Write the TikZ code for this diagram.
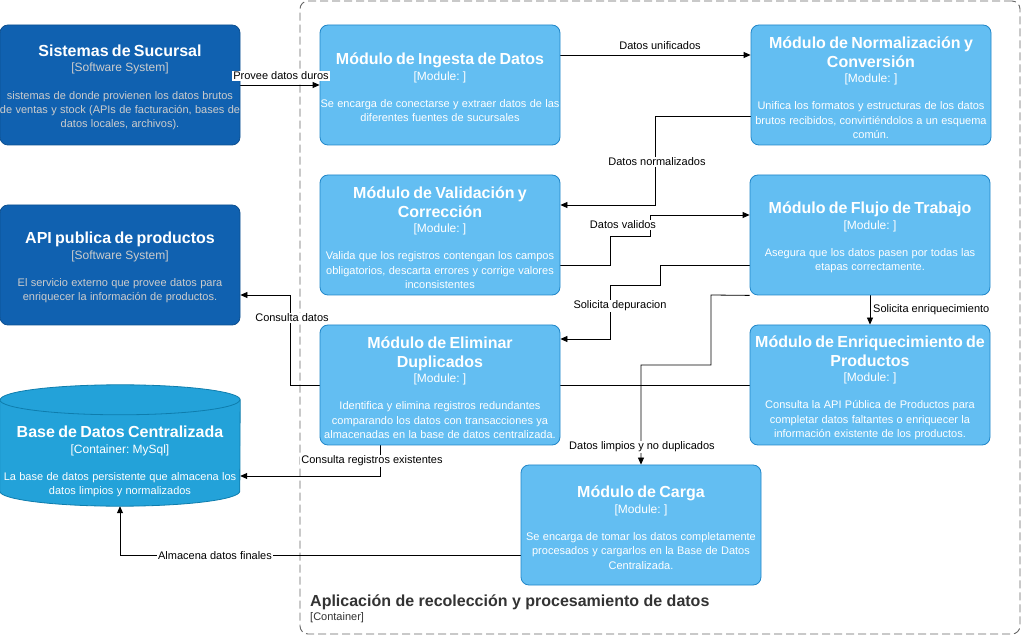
\documentclass[tikz,border=0pt]{standalone}
\usepackage{fontspec}
\setmainfont{Liberation Sans}
\frenchspacing
\usetikzlibrary{arrows.meta,calc,backgrounds}
\definecolor{sysfill}{HTML}{1061B0}
\definecolor{sysline}{HTML}{0D5091}
\definecolor{modfill}{HTML}{63BEF2}
\definecolor{modline}{HTML}{2086C9}
\definecolor{dbfill}{HTML}{23A2D9}
\definecolor{dbline}{HTML}{0E7DAD}
\definecolor{bnd}{HTML}{666666}
\definecolor{bndtext}{HTML}{333333}
\definecolor{sysdesc}{HTML}{CCCCCC}
\newcommand{\boxtxt}[4]{%
{\fontsize{16}{19}\selectfont\bfseries #1\par}%
{\fontsize{12}{15.5}\selectfont\leavevmode\color{#4}#2\par}%
\vspace{13pt}%
{\fontsize{11}{14.3}\selectfont\leavevmode\color{#4}#3\par}}
\begin{document}
\begin{tikzpicture}[x=1pt,y=-1pt,
  sysbox/.style={draw=sysline,fill=sysfill,rounded corners=8pt,minimum width=240pt,minimum height=120pt,inner sep=0pt,line width=0.8pt},
  modbox/.style={draw=modline,fill=modfill,rounded corners=8pt,minimum width=240pt,minimum height=120pt,inner sep=0pt,line width=0.8pt},
  ghost/.style={minimum width=240pt,minimum height=121pt,inner sep=0pt},
  boxtext/.style={text=white,text width=300pt,align=center,inner sep=0pt,yshift=-2.5pt},
  rel/.style={draw=black,line width=0.8pt,-{Triangle[length=7pt,width=6pt]}},
  rellabel/.style={fill=white,inner sep=1pt,font=\fontsize{11}{13}\selectfont,text=black},
]
\useasboundingbox (0,0) rectangle (1021,636);

% boxes
\node[sysbox] (suc) at (120,85) {};
\node[boxtext] (suct) at (suc.center) {\boxtxt{Sistemas de Sucursal}{[Software System]}{sistemas de donde provienen los datos brutos\\de ventas y stock (APIs de facturación, bases de\\datos locales, archivos).}{sysdesc}};

\node[sysbox] (api) at (120,265) {};
\node[boxtext] (apit) at (api.center) {\boxtxt{API publica de productos}{[Software System]}{El servicio externo que provee datos para\\enriquecer la información de productos.}{sysdesc}};

\node[ghost] (db) at (120,445.5) {};
\draw[fill=dbfill,draw=dbline,line width=0.8pt] ([yshift=-15pt]db.north west) -- ([yshift=15pt]db.south west)
  arc[start angle=180,end angle=360,x radius=120pt,y radius=15pt]
  -- ([yshift=-15pt]db.north east)
  arc[start angle=0,end angle=180,x radius=120pt,y radius=15pt] -- cycle;
\draw[draw=dbline,line width=0.8pt] ([yshift=-15pt]db.north west) arc[start angle=180,end angle=360,x radius=120pt,y radius=15pt];
\node[boxtext] (dbt) at (120,459) {\boxtxt{Base de Datos Centralizada}{[Container: MySql]}{La base de datos persistente que almacena los\\datos limpios y normalizados}{white}};

\node[modbox] (ing) at (440,85) {};
\node[boxtext] (ingt) at (ing.center) {\boxtxt{Módulo de Ingesta de Datos}{[Module: ]}{Se encarga de conectarse y extraer datos de las\\diferentes fuentes de sucursales}{white}};

\node[modbox] (norm) at (871,85) {};
\node[boxtext] (normt) at (norm.center) {\boxtxt{Módulo de Normalización y\\Conversión}{[Module: ]}{Unifica los formatos y estructuras de los datos\\brutos recibidos, convirtiéndolos a un esquema\\común.}{white}};

\node[modbox] (val) at (440,235) {};
\node[boxtext] (valt) at (val.center) {\boxtxt{Módulo de Validación y\\Corrección}{[Module: ]}{Valida que los registros contengan los campos\\obligatorios, descarta errores y corrige valores\\inconsistentes}{white}};

\node[modbox] (flu) at (870,235) {};
\node[boxtext] (flut) at (flu.center) {\boxtxt{Módulo de Flujo de Trabajo}{[Module: ]}{Asegura que los datos pasen por todas las\\etapas correctamente.}{white}};

\node[modbox] (elim) at (440,385) {};
\node[boxtext] (elimt) at (elim.center) {\boxtxt{Módulo de Eliminar\\Duplicados}{[Module: ]}{Identifica y elimina registros redundantes\\comparando los datos con transacciones ya\\almacenadas en la base de datos centralizada.}{white}};

\node[modbox] (enr) at (870,385) {};
\node[boxtext] (enrt) at (enr.center) {\boxtxt{Módulo de Enriquecimiento de\\Productos}{[Module: ]}{Consulta la API Pública de Productos para\\completar datos faltantes o enriquecer la\\información existente de los productos.}{white}};

\node[modbox] (carga) at (641,525) {};
\node[boxtext] (cargat) at (carga.center) {\boxtxt{Módulo de Carga}{[Module: ]}{Se encarga de tomar los datos completamente\\procesados y cargarlos en la Base de Datos\\Centralizada.}{white}};

% white page, container boundary and connectors behind the boxes
\begin{scope}[on background layer]
\fill[white] (0,0) rectangle (1021,636);
\node[draw=bnd,dash pattern=on 8pt off 4pt,rounded corners=8pt,line width=0.9pt,minimum width=720pt,minimum height=633pt,inner sep=0pt] (app) at (660,317.5) {};
\draw[rel] (suc.east) -- (ing.west);
\draw[rel] (ing.east |- 0,55) -- (norm.west |- 0,55);
\draw[rel] (norm.west |- 0,116) -| (655,205) -- (val.east |- 0,205);
\draw[rel] (val.east |- 0,265) -- (610,265) -- (610,236) -- (650,236) -- (650,215) -- (flu.west |- 0,215);
\draw[rel] (flu.west |- 0,265) -- (660,265) -- (660,285) -- (610,285) -- (610,339) -- (elim.east |- 0,339);
\draw[rel] (flu.south west) -- (711,295) -- (711,365) -- (641,365) -- (carga.north);
\draw[rel] (flu.south) -- (enr.north);
\draw[rel] (enr.west) -- (290,385) -- (290,295) -- (api.east |- 0,295);
\draw[rel] (elim.south -| 380,0) -- (380,476) -- (db.east |- 0,476);
\draw[rel] (carga.west |- 0,555) -- (120,555) -- (db.south);
\end{scope}

% connector labels
\node[rellabel] (l1) at (281,76) {Provee datos duros};
\node[rellabel] (l2) at (660,46) {Datos unificados};
\node[rellabel] (l3) at (657,162) {Datos normalizados};
\node[rellabel] (l4) at (623,225) {Datos validos};
\node[rellabel] (l5) at (620,306) {Solicita depuracion};
\node[rellabel,anchor=west] (l6) at (872,310) {Solicita enriquecimiento};
\node[rellabel] (l7) at (292,318) {Consulta datos};
\node[rellabel] (l8) at (642,447) {Datos limpios y no duplicados};
\node[rellabel] (l9) at (372,461) {Consulta registros existentes};
\node[rellabel] (l10) at (215,556) {Almacena datos finales};

% container label
\node[anchor=west,inner sep=0pt,text=bndtext,font=\fontsize{16}{19}\selectfont\bfseries] (appt) at (310,602) {Aplicación de recolección y procesamiento de datos};
\node[anchor=west,inner sep=0pt,text=bndtext,font=\fontsize{11}{13}\selectfont] (apps) at (310,618) {[Container]};
\end{tikzpicture}
\end{document}
